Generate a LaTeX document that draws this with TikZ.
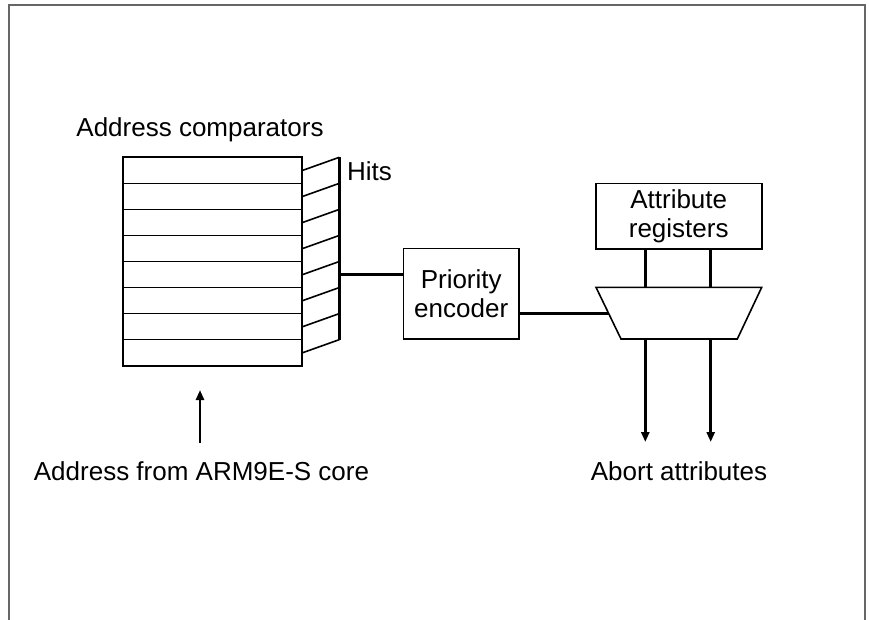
\documentclass[tikz,border=0pt]{standalone}
\usepackage{fontspec}
\setmainfont{Liberation Sans}
\usetikzlibrary{arrows.meta}
\begin{document}
\begin{tikzpicture}[x=1pt,y=-1pt,
  lbl/.style={font=\fontsize{26}{29}\selectfont, inner sep=0pt},
  rowbox/.style={draw, line width=1.6pt, minimum width=179.3pt, minimum height=26.05pt, inner sep=0pt},
  blk/.style={draw, line width=1.6pt, inner sep=0pt, align=center, font=\fontsize{26}{29}\selectfont},
  thin/.style={line width=1.6pt},
  thick/.style={line width=3pt},
  arr/.style={line width=2.6pt, -{Triangle[length=10pt,width=8pt]}},
  frame/.style={draw=black!60, line width=1.8pt}
]
\useasboundingbox (0,0) rectangle (869,620);
% frame
\coordinate (fBL) at (8.7,622);
\coordinate (fTL) at (8.7,5);
\coordinate (fTR) at (865,5);
\coordinate (fBR) at (865,622);
\draw[frame] (fBL) -- (fTL) -- (fTR) -- (fBR);

% comparators
\node[lbl, anchor=base] (ac) at (200,137) {Address comparators};
\foreach \i in {1,...,8}{
  \node[rowbox] (r\i) at (212.35,{157.3+26.05*(\i-1)+13.025}) {};
  \coordinate (b\i) at (339.3,{157.3+26.05*(\i-1)});
  \draw[thin] (r\i.east) -- (b\i);
}
\draw[thick] (b1) -- (b8);
\node[lbl, anchor=base west] (hits) at (347,181) {Hits};

% priority encoder
\node[blk, minimum width=115.7pt, minimum height=90.7pt] (pe) at (461.2,293.7) {Priority\\encoder};
\coordinate (bo) at (339.3,274.3);
\draw[thick] (bo) -- (bo -| pe.west);

% attribute registers
\node[blk, minimum width=166pt, minimum height=65.7pt] (ar) at (678.7,216.2) {Attribute\\registers};

% mux
\coordinate (mTL) at (596,287.3);
\coordinate (mTR) at (761.7,287.3);
\coordinate (mBR) at (737.3,339);
\coordinate (mBL) at (621,339);
\draw[thin, line join=miter] (mTL) -- (mTR) -- (mBR) -- (mBL) -- cycle;
\coordinate (mIn) at (608.6,313.3);
\draw[thick] (pe.east |- mIn) -- (mIn);

\coordinate (m1) at (645.3,287.3);
\coordinate (m2) at (710.7,287.3);
\draw[thick] (ar.south -| m1) -- (m1);
\draw[thick] (ar.south -| m2) -- (m2);

\coordinate (o1s) at (645.3,339);
\coordinate (o1e) at (645.3,442);
\coordinate (o2s) at (710.7,339);
\coordinate (o2e) at (710.7,442);
\draw[arr] (o1s) -- (o1e);
\draw[arr] (o2s) -- (o2e);
\node[lbl, anchor=base] (abort) at (679,480) {Abort attributes};

% address input
\node[lbl, anchor=base] (addr) at (201.5,480) {Address from ARM9E-S core};
\coordinate (ain) at (200,443);
\coordinate (aend) at (200,390);
\draw[arr] (ain) -- (aend);
\end{tikzpicture}
\end{document}
